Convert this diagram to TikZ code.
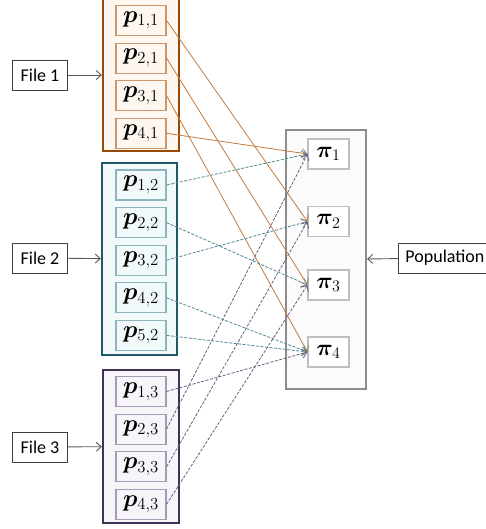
\RequirePackage{fix-cm}
\documentclass[tikz,border=0pt]{standalone}
\usepackage{fontspec}
\setmainfont{Carlito}
\usepackage{amsmath}
\usepackage{bm}
\usetikzlibrary{arrows.meta, positioning}
\definecolor{brownedge}{RGB}{152,72,7}
\definecolor{brownfill}{RGB}{253,247,240}
\definecolor{browninner}{RGB}{204,150,108}
\definecolor{brownline}{RGB}{196,122,62}
\definecolor{tealedge}{RGB}{33,89,104}
\definecolor{tealfill}{RGB}{242,249,250}
\definecolor{tealinner}{RGB}{142,180,190}
\definecolor{tealline}{RGB}{80,135,150}
\definecolor{purpedge}{RGB}{63,49,81}
\definecolor{purpfill}{RGB}{247,245,249}
\definecolor{purpinner}{RGB}{164,156,180}
\definecolor{purpline}{RGB}{104,94,134}
\definecolor{grayedge}{RGB}{140,140,140}
\definecolor{grayinner}{RGB}{191,191,191}
\tikzset{
    %Define standard arrow tip
    >={Straight Barb[length=5pt,width=9pt]},
}

\begin{document}
\begin{tikzpicture}[x=1pt,y=-1pt]
	\tikzset{
	  grp/.style={draw, line width=2.2pt, inner sep=0pt,
	              minimum width=76pt},
	  pn/.style={draw, line width=1.1pt, inner sep=0pt,
	             minimum width=50pt, minimum height=30pt,
	             font=\fontsize{24}{26}\selectfont},
	  pin/.style={draw=grayinner, fill=white, line width=1.1pt, inner sep=0pt,
	              minimum width=41pt, minimum height=30pt,
	              font=\fontsize{23}{25}\selectfont},
	  fn/.style={draw=black!75, fill=white, line width=0.9pt,
	             minimum width=55pt, minimum height=30pt, inner xsep=7pt,
	             font=\fontsize{18}{20}\selectfont},
	  ar/.style={draw=black!65, line width=0.9pt},
	  bl/.style={draw=brownline, line width=0.8pt},
	  tl/.style={draw=tealline, line width=0.8pt, dash pattern=on 3pt off 1.5pt},
	  pl/.style={draw=purpline, line width=0.8pt, dash pattern=on 3pt off 1.5pt}
	}
	\useasboundingbox (0,0) rectangle (486,529);

	% outer boxes
	\node[grp, draw=brownedge, fill=brownfill, minimum height=152pt] (grp1) at (141,75) {};
	\node[grp, draw=tealedge, fill=tealfill, minimum width=75pt, minimum height=192pt] (grp2) at (139.5,259) {};
	\node[grp, draw=purpedge, fill=purpfill, minimum height=153pt] (grp3) at (141,446.5) {};
	\node[grp, draw=grayedge, fill=black!1.5, minimum width=80pt, minimum height=259pt] (pigrp) at (326,259.5) {};

	% file 1
	\node[pn, draw=browninner, fill=brownfill] (p11) at (141,20.5) {$\bm{p}_{1,1}$};
	\node[pn, draw=browninner, fill=brownfill, below=6.5pt of p11] (p21) {$\bm{p}_{2,1}$};
	\node[pn, draw=browninner, fill=brownfill, below=6.5pt of p21] (p31) {$\bm{p}_{3,1}$};
	\node[pn, draw=browninner, fill=brownfill, below=6.5pt of p31] (p41) {$\bm{p}_{4,1}$};

	% file 2
	\node[pn, draw=tealinner, fill=tealfill] (p12) at (141,185) {$\bm{p}_{1,2}$};
	\node[pn, draw=tealinner, fill=tealfill, below=6.5pt of p12] (p22) {$\bm{p}_{2,2}$};
	\node[pn, draw=tealinner, fill=tealfill, below=6.5pt of p22] (p32) {$\bm{p}_{3,2}$};
	\node[pn, draw=tealinner, fill=tealfill, below=6.5pt of p32] (p42) {$\bm{p}_{4,2}$};
	\node[pn, draw=tealinner, fill=tealfill, below=6.5pt of p42] (p52) {$\bm{p}_{5,2}$};

	% file 3
	\node[pn, draw=purpinner, fill=purpfill] (p13) at (141,391.5) {$\bm{p}_{1,3}$};
	\node[pn, draw=purpinner, fill=purpfill, below=6.5pt of p13] (p23) {$\bm{p}_{2,3}$};
	\node[pn, draw=purpinner, fill=purpfill, below=6.5pt of p23] (p33) {$\bm{p}_{3,3}$};
	\node[pn, draw=purpinner, fill=purpfill, below=6.5pt of p33] (p43) {$\bm{p}_{4,3}$};

	% population
	\node[pin] (pi1) at (328.5,154) {$\bm{\pi}_1$};
	\node[pin] (pi2) at (328.5,221.5) {$\bm{\pi}_2$};
	\node[pin] (pi3) at (328.5,285) {$\bm{\pi}_3$};
	\node[pin] (pi4) at (328.5,352) {$\bm{\pi}_4$};

	\node[fn] (file1) at (40,75) {File 1};
	\node[fn] (file2) at (40,258) {File 2};
	\node[fn] (file3) at (40,447) {File 3};
	\node[fn, anchor=west] (popn) at (398,258) {Population};

	\path[ar] (file1) edge[->] (grp1)
	          (file2) edge[->] (grp2)
	          (file3) edge[->] (grp3)
	          (popn) edge[->] (pigrp);

	\path[bl] (p11.east) edge[->] (pi2.west)
	          (p21.east) edge[->] (pi3.west)
	          (p31.east) edge[->] (pi4.west)
	          (p41.east) edge[->] (pi1.west);

	\path[tl] (p12.east) edge[->] (pi1.west)
	          (p22.east) edge[->] (pi3.west)
	          (p32.east) edge[->] (pi2.west)
	          (p42.east) edge[->] (pi4.west)
	          (p52.east) edge[->] (pi4.west);

	\path[pl] (p13.east) edge[->] (pi4.west)
	          (p23.east) edge[->] (pi1.west)
	          (p33.east) edge[->] (pi2.west)
	          (p43.east) edge[->] (pi3.west);

\end{tikzpicture}
\end{document}
